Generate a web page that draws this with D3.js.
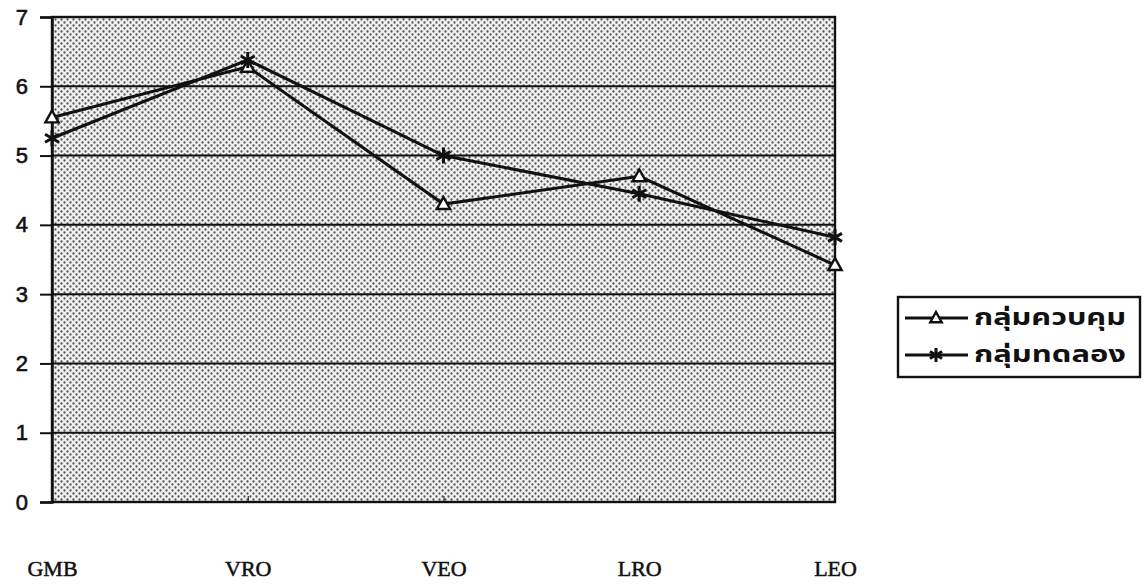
<!DOCTYPE html>
<html><head><meta charset="utf-8">
<script src="https://cdn.jsdelivr.net/npm/d3@7"></script>
<style>body{margin:0;background:#fff}</style>
</head><body>
<svg id="c" width="1144" height="587"></svg>
<script>
const categories = ["GMB","VRO","VEO","LRO","LEO"];
const controlValues = [5.55, 6.28, 4.3, 4.7, 3.42];
const experimentValues = [5.25, 6.38, 5.0, 4.45, 3.82];
const seriesNames = ["กลุ่มควบคุม","กลุ่มทดลอง"];
const yTicks = [0,1,2,3,4,5,6,7];

const svg = d3.select("#c");
const L = 52, R = 835, T = 17, B = 502;
const x = d3.scalePoint().domain(categories).range([L, R]).padding(0);
const y = d3.scaleLinear().domain([0, 7]).range([B, T]);

const defs = svg.append("defs");
const pat = defs.append("pattern").attr("id","dots").attr("patternUnits","userSpaceOnUse")
  .attr("width",6).attr("height",6);
pat.append("rect").attr("width",6).attr("height",6).attr("fill","#f0f0f0");
pat.append("circle").attr("cx",1.5).attr("cy",1.5).attr("r",1.15).attr("fill","#555");
pat.append("circle").attr("cx",4.5).attr("cy",4.5).attr("r",1.15).attr("fill","#555");

svg.append("rect").attr("x",L).attr("y",T).attr("width",R-L).attr("height",B-T).attr("fill","url(#dots)");

// gridlines
svg.append("g").selectAll("line").data(yTicks.slice(1,-1)).join("line")
  .attr("x1",L).attr("x2",R).attr("y1",d=>y(d)).attr("y2",d=>y(d))
  .attr("stroke","#111").attr("stroke-width",2);

// frame
svg.append("rect").attr("x",L).attr("y",T).attr("width",R-L).attr("height",B-T)
  .attr("fill","none").attr("stroke","#111").attr("stroke-width",2.4);

// y axis
const yAxis = svg.append("g").attr("transform",`translate(${L},0)`)
  .call(d3.axisLeft(y).tickValues(yTicks).tickSize(12).tickPadding(12).tickFormat(d3.format("d")));
yAxis.select(".domain").attr("stroke","#111").attr("stroke-width",2.4);
yAxis.selectAll(".tick line").attr("stroke","#111").attr("stroke-width",2);
yAxis.selectAll(".tick text").attr("font-family","Liberation Sans, Arial, sans-serif")
  .attr("font-size",22).attr("fill","#111").attr("stroke","#111").attr("stroke-width",0.6);

// x axis
const xAxis = svg.append("g").attr("transform",`translate(0,${B})`)
  .call(d3.axisBottom(x).tickSize(-6).tickPadding(58));
xAxis.select(".domain").remove();
xAxis.selectAll(".tick line").attr("stroke","#111").attr("stroke-width",1);
xAxis.selectAll(".tick text").attr("font-family","Liberation Serif, 'Times New Roman', serif")
  .attr("font-size",22).attr("fill","#111").attr("stroke","#111").attr("stroke-width",0.5);

const line = d3.line().x((d,i)=>x(categories[i])).y(d=>y(d));

function triangle(g, cx, cy, s){
  g.append("path").attr("d",`M${cx},${cy-s}L${cx+s*0.95},${cy+s*0.7}L${cx-s*0.95},${cy+s*0.7}Z`)
    .attr("fill","#fff").attr("stroke","#111").attr("stroke-width",2.4);
}
function star(g, cx, cy, s){
  const p = [];
  for (let k=0;k<3;k++){ const a = Math.PI/2 + k*Math.PI/3;
    p.push(`M${cx+s*Math.cos(a)},${cy+s*Math.sin(a)}L${cx-s*Math.cos(a)},${cy-s*Math.sin(a)}`); }
  g.append("path").attr("d",p.join("")).attr("stroke","#111").attr("stroke-width",3);
}

svg.append("path").datum(controlValues).attr("d",line).attr("fill","none").attr("stroke","#111").attr("stroke-width",3);
svg.append("path").datum(experimentValues).attr("d",line).attr("fill","none").attr("stroke","#111").attr("stroke-width",3);
const mk = svg.append("g");
controlValues.forEach((v,i)=>triangle(mk, x(categories[i]), y(v), 7));
experimentValues.forEach((v,i)=>star(mk, x(categories[i]), y(v), 8));

// legend
const lg = svg.append("g");
lg.append("rect").attr("x",898).attr("y",297).attr("width",242).attr("height",80)
  .attr("fill","#fff").attr("stroke","#111").attr("stroke-width",2.4);
const ly = [318, 355];
seriesNames.forEach((n,i)=>{
  lg.append("line").attr("x1",905).attr("x2",968).attr("y1",ly[i]).attr("y2",ly[i]).attr("stroke","#111").attr("stroke-width",3);
  if(i===0) triangle(lg, 936, ly[i], 6); else star(lg, 936, ly[i], 7);
  lg.append("text").attr("x",974).attr("y",ly[i]+7).text(n)
    .attr("font-family","'Noto Sans Thai','Noto Sans','DejaVu Sans',sans-serif").attr("font-weight","bold")
    .attr("font-size",23).attr("fill","#111").attr("textLength",152).attr("lengthAdjust","spacingAndGlyphs");
});
</script>
</body></html>
